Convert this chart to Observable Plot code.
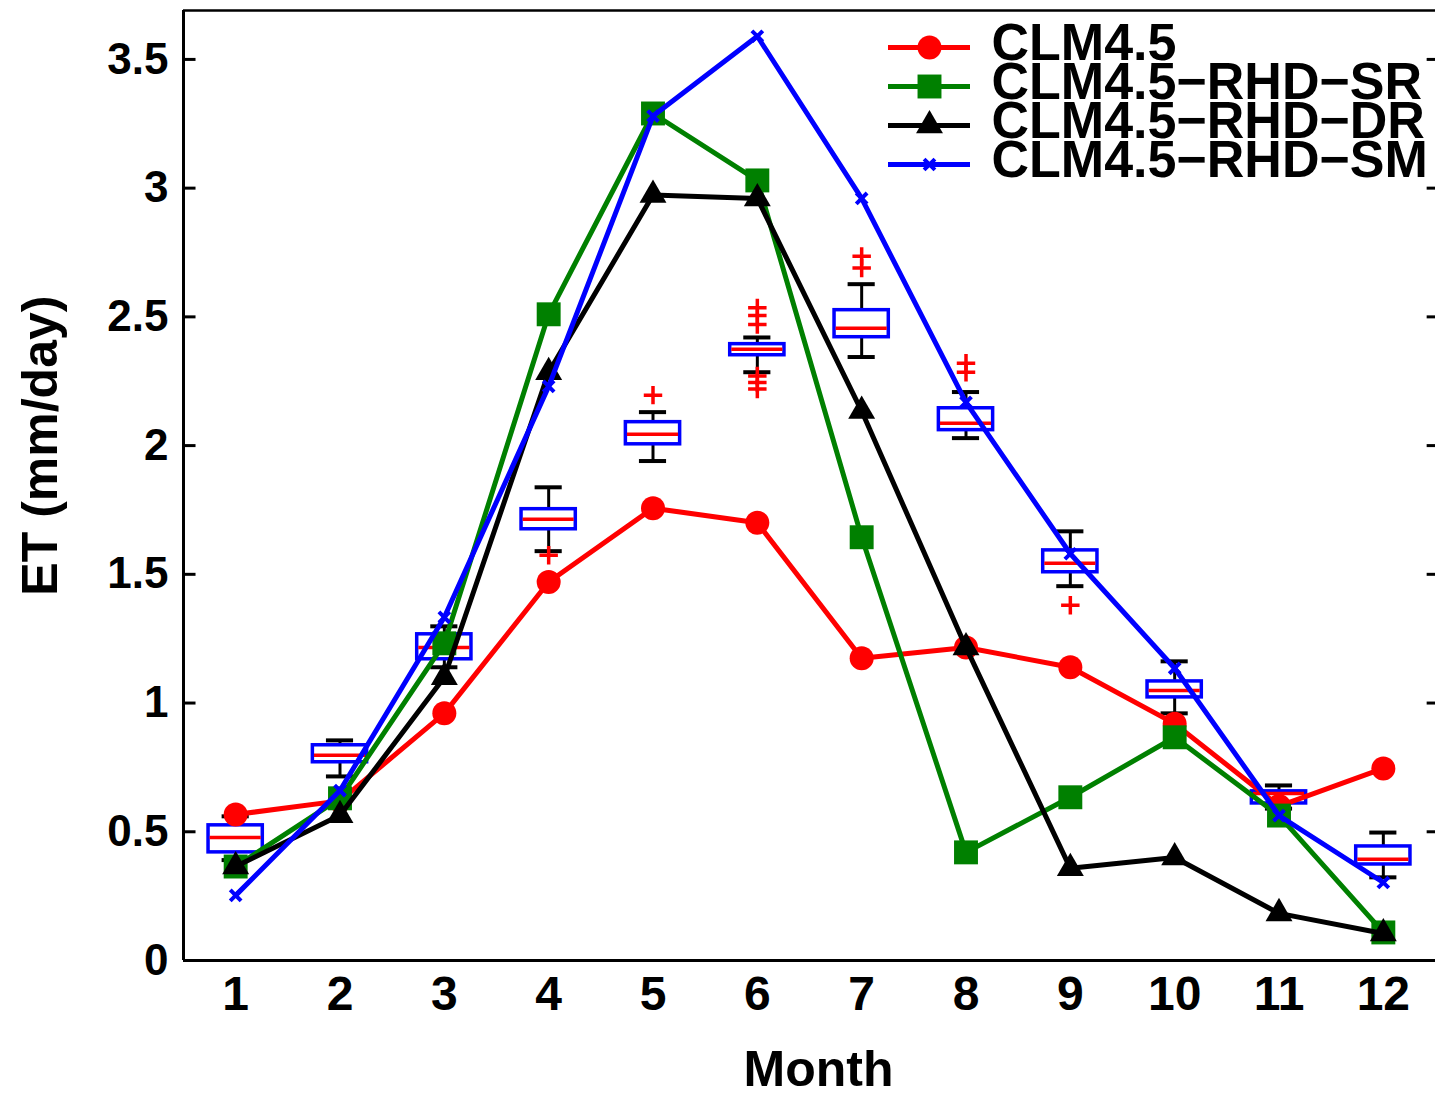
<!DOCTYPE html>
<html><head><meta charset="utf-8">
<script src="https://cdn.jsdelivr.net/npm/d3@7"></script>
<script src="https://cdn.jsdelivr.net/npm/@observablehq/plot@0.6"></script>
<style>
body{margin:0;background:#fff;}
#wrap{position:relative;width:1435px;height:1094px;overflow:hidden;}
#legend{position:absolute;left:875px;top:20px;}
svg{font-family:'Liberation Sans',Arial,sans-serif;font-weight:bold;}
</style></head><body><div id="wrap"><div id="chart"></div><div id="legend"></div></div>
<script>
// ---- data ----
const months = [1,2,3,4,5,6,7,8,9,10,11,12];
const clm45 = [0.567, 0.62, 0.96, 1.47, 1.757, 1.70, 1.174, 1.216, 1.139, 0.92, 0.60, 0.746];
const rhdSR = [0.365, 0.63, 1.232, 2.51, 3.29, 3.03, 1.644, 0.42, 0.634, 0.867, 0.563, 0.109];
const rhdDR = [0.365, 0.564, 1.10, 2.285, 2.973, 2.96, 2.134, 1.216, 0.358, 0.40, 0.183, 0.105];
const rhdSM = [0.253, 0.66, 1.333, 2.23, 3.28, 3.59, 2.96, 2.168, 1.58, 1.135, 0.563, 0.303];

const boxQ1   = [0.42, 0.77, 1.17, 1.675, 2.005, 2.351, 2.421, 2.06, 1.508, 1.022, 0.61, 0.373];
const boxMed  = [0.478, 0.797, 1.216, 1.714, 2.044, 2.374, 2.456, 2.087, 1.543, 1.049, 0.649, 0.393];
const boxQ3   = [0.525, 0.836, 1.267, 1.753, 2.091, 2.394, 2.526, 2.145, 1.593, 1.084, 0.657, 0.443];
const whiskLo = [0.39, 0.715, 1.139, 1.59, 1.94, 2.285, 2.344, 2.029, 1.454, 0.96, 0.59, 0.323];
const whiskHi = [0.56, 0.855, 1.298, 1.838, 2.13, 2.42, 2.627, 2.208, 1.667, 1.162, 0.68, 0.497];

const outlierMonth = [4, 5, 6, 6, 6, 6, 6, 6, 7, 7, 8, 8, 9];
const outlierValue = [1.574, 2.196, 2.535, 2.505, 2.47, 2.27, 2.245, 2.22, 2.735, 2.69, 2.32, 2.285, 1.38];

const yTicks = [0, 0.5, 1, 1.5, 2, 2.5, 3, 3.5];
const yTickLabels = ["0", "0.5", "1", "1.5", "2", "2.5", "3", "3.5"];
const seriesNames = ["CLM4.5", "CLM4.5\u2212RHD\u2212SR", "CLM4.5\u2212RHD\u2212DR", "CLM4.5\u2212RHD\u2212SM"];
const seriesColors = ["#ff0000", "#008000", "#000000", "#0000ff"];
const xLabel = "Month";
const yLabel = "ET (mm/day)";

// ---- build tables ----
const xDomain = [0.5, 12.5];
const yDomain = [0, 3.69];
const seriesValues = [clm45, rhdSR, rhdDR, rhdSM];
const symbols = [
  {symbol: "circle", r: 12, filled: true},
  {symbol: "square", r: 13.5, filled: true},
  {symbol: "triangle", r: 10, filled: true},
  {symbol: "times", r: 5, filled: false}
];
const series = seriesNames.map((name, k) => ({
  name, color: seriesColors[k], ...symbols[k],
  data: months.map((m, i) => ({m, v: seriesValues[k][i]}))
}));
const boxes = months.map((m, i) => ({m, q1: boxQ1[i], med: boxMed[i], q3: boxQ3[i], lo: whiskLo[i], hi: whiskHi[i]}));
const outliers = outlierMonth.map((m, i) => ({m, v: outlierValue[i]}));

const boxHalf = 0.26, capHalf = 0.13, medHalf = 0.245;

const marks = [
  // boxplots
  Plot.ruleX(boxes, {x: "m", y1: "q3", y2: "hi", stroke: "black", strokeWidth: 3}),
  Plot.ruleX(boxes, {x: "m", y1: "lo", y2: "q1", stroke: "black", strokeWidth: 3}),
  Plot.ruleY(boxes, {y: "hi", x1: d => d.m - capHalf, x2: d => d.m + capHalf, stroke: "black", strokeWidth: 4}),
  Plot.ruleY(boxes, {y: "lo", x1: d => d.m - capHalf, x2: d => d.m + capHalf, stroke: "black", strokeWidth: 4}),
  Plot.rect(boxes, {x1: d => d.m - boxHalf, x2: d => d.m + boxHalf, y1: "q1", y2: "q3", fill: "white", stroke: "#0000ff", strokeWidth: 3.5}),
  Plot.ruleY(boxes, {y: "med", x1: d => d.m - medHalf, x2: d => d.m + medHalf, stroke: "#ff0000", strokeWidth: 3.5}),
  Plot.dot(outliers, {x: "m", y: "v", symbol: "plus", stroke: "#ff0000", r: 6, strokeWidth: 3.5}),
];
for (const s of series) {
  marks.push(Plot.line(s.data, {x: "m", y: "v", stroke: s.color, strokeWidth: 5}));
  marks.push(Plot.dot(s.data, s.filled
    ? {x: "m", y: "v", symbol: s.symbol, r: s.r, fill: s.color, stroke: "none"}
    : {x: "m", y: "v", symbol: s.symbol, r: s.r, fill: "none", stroke: s.color, strokeWidth: 4}));
}
// frame + ticks
marks.push(
  Plot.ruleX([xDomain[0]], {stroke: "black", strokeWidth: 3}),
  Plot.ruleY([yDomain[0]], {stroke: "black", strokeWidth: 3}),
  Plot.ruleY([yDomain[1]], {stroke: "black", strokeWidth: 2.5}),
  Plot.ruleY(yTicks, {x1: xDomain[0], x2: xDomain[0] + 0.12, stroke: "black", strokeWidth: 3}),
  Plot.ruleY(yTicks, {x1: xDomain[1] - 0.08, x2: xDomain[1], stroke: "black", strokeWidth: 3}),
  Plot.axisY({ticks: yTicks, tickFormat: (d, i) => yTickLabels[yTicks.indexOf(d)], tickSize: 0, tickPadding: 15, fontSize: 44, fontWeight: "bold", label: null}),
  Plot.axisX({ticks: months, tickFormat: d => String(d), tickSize: 0, tickPadding: 15, fontSize: 48, fontWeight: "bold", label: null}),
  Plot.text([yLabel], {x: xDomain[0], y: 2.0, text: d => d, rotate: -90, dx: -143, fontSize: 50, fontWeight: "bold", textAnchor: "middle", lineAnchor: "middle", fill: "black"}),
  Plot.text([xLabel], {frameAnchor: "bottom", text: d => d, dx: 9, dy: 109, fontSize: 50, fontWeight: "bold", lineAnchor: "middle", fill: "black"})
);

const chart = Plot.plot({
  width: 1435, height: 1094,
  marginLeft: 183, marginRight: 0, marginTop: 10, marginBottom: 134,
  x: {domain: xDomain, axis: null},
  y: {domain: yDomain, axis: null},
  style: {fontFamily: "'Liberation Sans', Arial, sans-serif", fontWeight: "bold", color: "black", background: "white", overflow: "visible"},
  marks
});
document.getElementById("chart").append(chart);

// legend
const legendMarks = [];
for (const s of series) {
  legendMarks.push(Plot.ruleY([s.name], {x1: 0, x2: 1, stroke: s.color, strokeWidth: 5}));
  legendMarks.push(Plot.dot([s.name], s.filled
    ? {x: 0.5, y: d => d, symbol: s.symbol, r: s.r, fill: s.color, stroke: "none"}
    : {x: 0.5, y: d => d, symbol: s.symbol, r: s.r, fill: "none", stroke: s.color, strokeWidth: 4}));
}
legendMarks.push(Plot.text(seriesNames, {x: 1, y: d => d, text: d => d, dx: 21, dy: -4, textAnchor: "start", lineAnchor: "middle", fontSize: 52, fontWeight: "bold", fill: "black"}));
const legend = Plot.plot({
  width: 560, height: 170,
  marginLeft: 13, marginRight: 465, marginTop: 26, marginBottom: 25,
  x: {domain: [0, 1], axis: null},
  y: {type: "point", domain: seriesNames, padding: 0, axis: null},
  style: {fontFamily: "'Liberation Sans', Arial, sans-serif", fontWeight: "bold", background: "transparent", overflow: "visible"},
  marks: legendMarks
});
document.getElementById("legend").append(legend);
</script>
</body></html>
